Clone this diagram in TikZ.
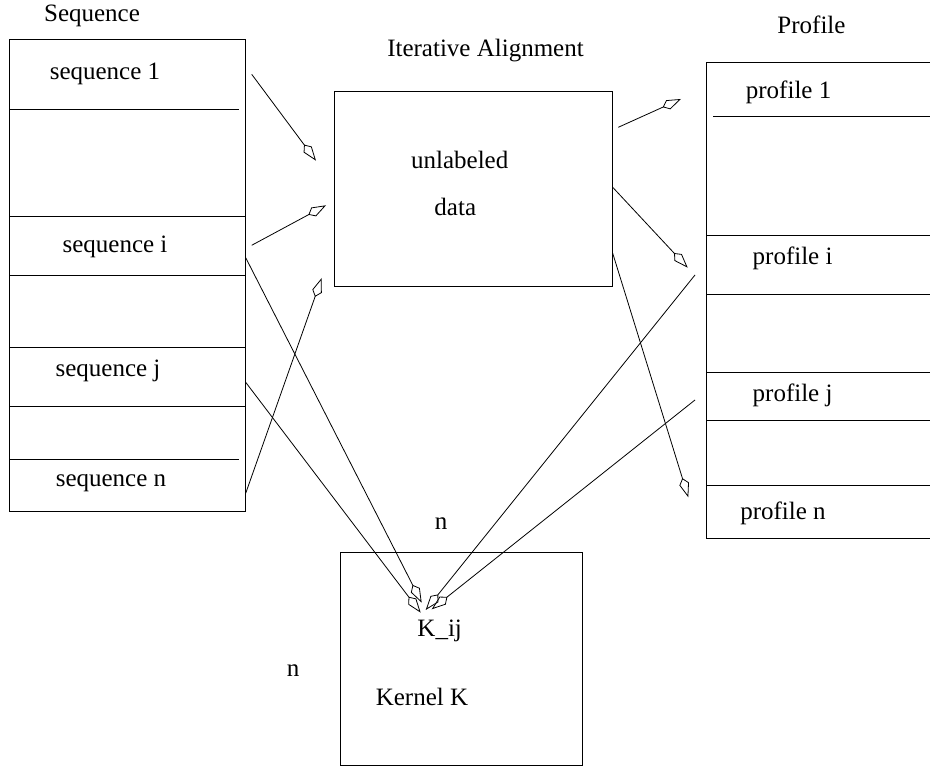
\documentclass[tikz,border=0pt]{standalone}
\usepackage{fontspec}
\setmainfont{Liberation Serif}
\usetikzlibrary{arrows.meta}

\begin{document}
\begin{tikzpicture}[
      x=1pt,
      y=1pt,
      font=\fontsize{25}{30}\selectfont,
      box/.style={draw, line width=0.9pt, inner sep=0pt, outer sep=0pt},
      lbl/.style={anchor=base, inner sep=0pt},
      arrow/.style={-{Kite[open, length=20pt, width=10pt, inset=6pt]}, line width=0.8pt},
      rule/.style={line width=0.9pt}
  ]
  \useasboundingbox (0,0) rectangle (930,767);

  % --- Boxes ---
  \node[box, minimum width=236.5pt, minimum height=472.5pt] (seqbox)  at (127.25,491.75) {};
  \node[box, minimum width=278.4pt, minimum height=195pt]   (align)   at (473.5,577.8)   {};
  \node[box, minimum width=227.2pt, minimum height=475.2pt] (profbox) at (820.4,466.6)   {};
  \node[box, minimum width=242.7pt, minimum height=212.7pt] (kernel)  at (461.3,107.7)   {};

  % --- Row dividers ---
  \draw[rule] (9,658) -- (239,658);
  \draw[rule] (9,551) -- (245.5,551);
  \draw[rule] (9,492) -- (245.5,492);
  \draw[rule] (9,420) -- (245.5,420);
  \draw[rule] (9,361) -- (245.5,361);
  \draw[rule] (9,308) -- (239,308);

  \draw[rule] (713,651) -- (934,651);
  \draw[rule] (706.8,532) -- (934,532);
  \draw[rule] (706.8,473) -- (934,473);
  \draw[rule] (706.8,395) -- (934,395);
  \draw[rule] (706.8,347) -- (934,347);
  \draw[rule] (706.8,282) -- (934,282);

  % --- Labels ---
  \node[lbl] (seqtitle) at (92,745)   {Sequence};
  \node[lbl] (seq1)     at (105,687)  {sequence 1};
  \node[lbl] (seqi)     at (115,514)  {sequence i};
  \node[lbl] (seqj)     at (108,390)  {sequence j};
  \node[lbl] (seqn)     at (111,280)  {sequence n};

  \node[lbl] (aligntitle) at (485.5,710.3) {Iterative Alignment};
  \node[lbl] (unlab)      at (459.7,598.7) {unlabeled};
  \node[lbl] (data)       at (455.3,551)   {data};

  \node[lbl] (proftitle) at (811.5,733.5) {Profile};
  \node[lbl] (prof1)     at (788.6,668.3) {profile 1};
  \node[lbl] (profi)     at (792.6,502)   {profile i};
  \node[lbl] (profj)     at (792.6,365)   {profile j};
  \node[lbl] (profn)     at (783,247)     {profile n};

  \node[lbl] (ntop)  at (441,237.7) {n};
  \node[lbl] (nleft) at (293,90.3)  {n};
  \node[lbl] (kij)   at (439.7,130.3) {K\_ij};
  \node[lbl] (kname) at (422,61)    {Kernel K};

  % --- Arrow ends ---
  \coordinate (s1out) at (251.7,692.7);  \coordinate (s1in) at (316,606.3);
  \coordinate (siout) at (251.7,521.7);  \coordinate (siin) at (326,561.7);
  \coordinate (snout) at (245.7,273.7);  \coordinate (snin) at (321.7,489);
  \coordinate (p1out) at (618.3,639.7);  \coordinate (p1in) at (681,668);
  \coordinate (piout) at (612.7,579.7);  \coordinate (piin) at (687.7,499.3);
  \coordinate (pnout) at (612.7,513.7);  \coordinate (pnin) at (688.3,269.7);

  \coordinate (kseqi)  at (245.7,509.3); \coordinate (kseqiin)  at (421.7,164.3);
  \coordinate (kseqj)  at (245.7,384.7); \coordinate (kseqjin)  at (420.7,154.3);
  \coordinate (kprofi) at (695,492);     \coordinate (kprofiin) at (425.7,157);
  \coordinate (kprofj) at (695,367);     \coordinate (kprofjin) at (431.7,157.7);

  % --- Arrows ---
  \draw[arrow] (s1out) -- (s1in);
  \draw[arrow] (siout) -- (siin);
  \draw[arrow] (snout) -- (snin);

  \draw[arrow] (p1out) -- (p1in);
  \draw[arrow] (piout) -- (piin);
  \draw[arrow] (pnout) -- (pnin);

  % pairs meeting in the kernel
  \draw[arrow] (kseqi) -- (kseqiin);
  \draw[arrow] (kseqj) -- (kseqjin);
  \draw[arrow] (kprofi) -- (kprofiin);
  \draw[arrow] (kprofj) -- (kprofjin);

\end{tikzpicture}
\end{document}
